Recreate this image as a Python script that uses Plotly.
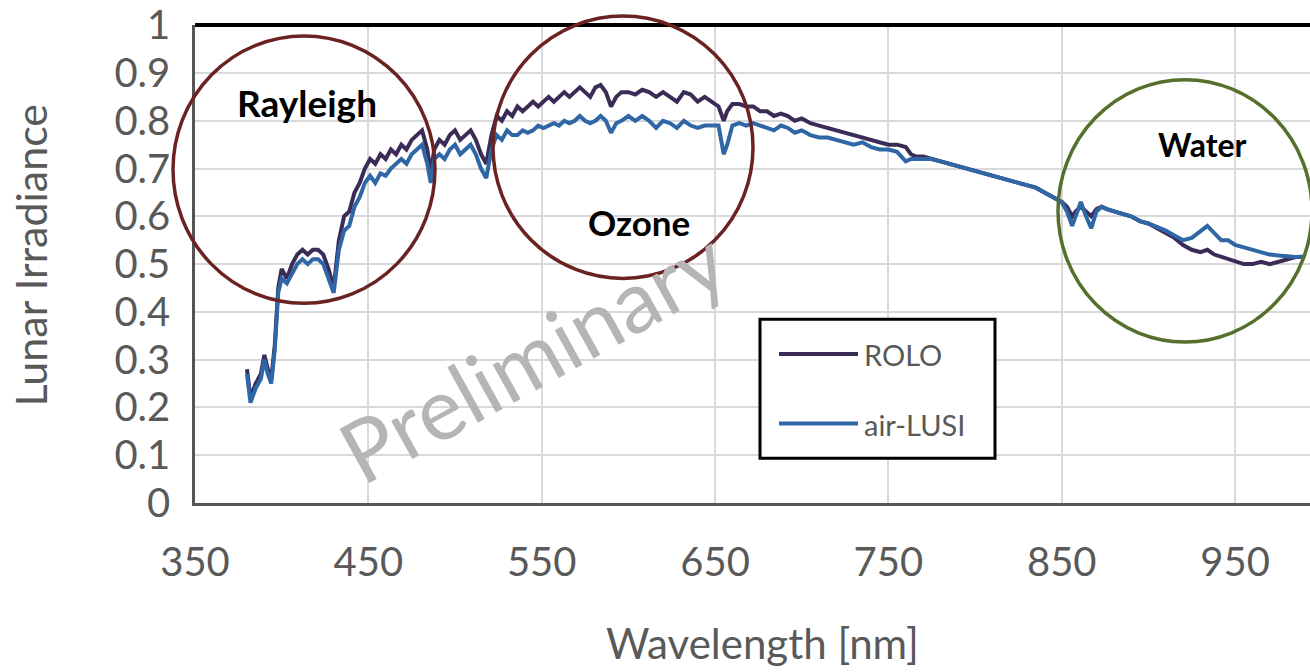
import plotly.graph_objects as go

# Wavelength grid [nm]
wavelength = [380, 382, 385, 388, 390, 392, 394, 396, 398, 400, 403, 406, 409, 412, 415, 418, 421, 424, 427, 430,
              433, 436, 439, 442, 445, 448, 451, 454, 457, 460, 463, 466, 469, 472, 475, 478, 481, 484, 486, 488,
              491, 494, 497, 500, 503, 506, 509, 512, 515, 518, 521, 524, 527, 530, 533, 536, 539, 542, 545, 548,
              551, 554, 557, 560, 563, 566, 569, 572, 575, 578, 581, 584, 587, 590, 593, 596, 600, 604, 608, 612,
              616, 620, 624, 628, 632, 636, 640, 644, 648, 652, 655, 657, 660, 664, 668, 672, 676, 680, 684, 688,
              692, 696, 700, 705, 710, 715, 720, 725, 730, 735, 740, 745, 750, 755, 760, 763, 766, 770, 775, 780,
              785, 790, 795, 800, 805, 810, 815, 820, 825, 830, 835, 840, 845, 850, 853, 856, 858, 861, 864, 867,
              870, 873, 876, 880, 885, 890, 895, 900, 905, 910, 915, 920, 925, 930, 934, 938, 942, 946, 950, 955,
              960, 965, 970, 975, 980, 985, 990]

rolo = [0.28, 0.22, 0.25, 0.27, 0.31, 0.28, 0.26, 0.33, 0.45, 0.49, 0.47, 0.50, 0.52, 0.53, 0.52, 0.53, 0.53, 0.52, 0.49, 0.45,
        0.55, 0.60, 0.61, 0.65, 0.67, 0.70, 0.72, 0.71, 0.73, 0.72, 0.74, 0.73, 0.75, 0.74, 0.76, 0.77, 0.78, 0.74, 0.69, 0.74,
        0.76, 0.75, 0.77, 0.78, 0.76, 0.77, 0.78, 0.76, 0.73, 0.71, 0.77, 0.81, 0.80, 0.82, 0.81, 0.83, 0.82, 0.83, 0.84, 0.83,
        0.84, 0.85, 0.84, 0.85, 0.86, 0.85, 0.86, 0.87, 0.86, 0.85, 0.87, 0.875, 0.86, 0.83, 0.85, 0.86, 0.86, 0.855, 0.865, 0.86,
        0.85, 0.86, 0.85, 0.84, 0.86, 0.855, 0.84, 0.85, 0.84, 0.83, 0.80, 0.82, 0.835, 0.835, 0.83, 0.83, 0.82, 0.82, 0.81, 0.815,
        0.81, 0.80, 0.805, 0.795, 0.79, 0.785, 0.78, 0.775, 0.77, 0.765, 0.76, 0.755, 0.75, 0.75, 0.745, 0.73, 0.725, 0.725, 0.72, 0.715,
        0.71, 0.705, 0.70, 0.695, 0.69, 0.685, 0.68, 0.675, 0.67, 0.665, 0.66, 0.65, 0.64, 0.63, 0.62, 0.60, 0.61, 0.62, 0.61, 0.60,
        0.615, 0.62, 0.615, 0.61, 0.605, 0.60, 0.59, 0.585, 0.575, 0.565, 0.555, 0.54, 0.53, 0.525, 0.53, 0.52, 0.515, 0.51, 0.505, 0.50,
        0.50, 0.505, 0.50, 0.505, 0.51, 0.515, 0.515]

air_lusi = [0.27, 0.21, 0.24, 0.26, 0.30, 0.27, 0.25, 0.32, 0.44, 0.47, 0.46, 0.48, 0.50, 0.51, 0.50, 0.51, 0.51, 0.50, 0.47, 0.44,
            0.53, 0.57, 0.58, 0.62, 0.64, 0.67, 0.685, 0.67, 0.69, 0.685, 0.70, 0.71, 0.72, 0.71, 0.73, 0.74, 0.75, 0.71, 0.67, 0.72,
            0.73, 0.72, 0.74, 0.75, 0.73, 0.74, 0.75, 0.73, 0.70, 0.68, 0.74, 0.77, 0.76, 0.78, 0.77, 0.77, 0.78, 0.775, 0.78, 0.79,
            0.785, 0.79, 0.795, 0.79, 0.80, 0.795, 0.80, 0.81, 0.80, 0.795, 0.80, 0.81, 0.80, 0.775, 0.795, 0.80, 0.81, 0.80, 0.81, 0.80,
            0.785, 0.80, 0.795, 0.785, 0.80, 0.79, 0.785, 0.79, 0.79, 0.79, 0.73, 0.75, 0.79, 0.795, 0.79, 0.795, 0.79, 0.785, 0.78, 0.79,
            0.785, 0.775, 0.78, 0.77, 0.765, 0.765, 0.76, 0.755, 0.75, 0.755, 0.745, 0.74, 0.74, 0.735, 0.715, 0.72, 0.72, 0.72, 0.72, 0.715,
            0.71, 0.705, 0.70, 0.695, 0.69, 0.685, 0.68, 0.675, 0.67, 0.665, 0.66, 0.65, 0.64, 0.63, 0.61, 0.58, 0.60, 0.63, 0.60, 0.575,
            0.61, 0.62, 0.615, 0.61, 0.605, 0.60, 0.59, 0.585, 0.578, 0.57, 0.56, 0.55, 0.555, 0.57, 0.58, 0.565, 0.55, 0.55, 0.54, 0.535,
            0.53, 0.525, 0.52, 0.518, 0.516, 0.515, 0.516]

x_ticks = [350, 450, 550, 650, 750, 850, 950]
y_ticks = [0, 0.1, 0.2, 0.3, 0.4, 0.5, 0.6, 0.7, 0.8, 0.9, 1]
y_tick_text = ["0", "0.1", "0.2", "0.3", "0.4", "0.5", "0.6", "0.7", "0.8", "0.9", "1"]

# Page geometry (pixels) used to place decorations in paper coordinates
W, H = 1310, 672
L, R, T, B = 195, 0, 22, 169
PW, PH = W - L - R, H - T - B


def px(x):
    return (x - L) / PW


def py(y):
    return (H - B - y) / PH


FONT = "Lato, Carlito, Calibri, sans-serif"
ROLO_COLOR = "#3b2b57"
LUSI_COLOR = "#2f66a6"

fig = go.Figure()
fig.add_trace(go.Scatter(x=wavelength, y=rolo, mode="lines", name="ROLO",
                         line=dict(color=ROLO_COLOR, width=4)))
fig.add_trace(go.Scatter(x=wavelength, y=air_lusi, mode="lines", name="air-LUSI",
                         line=dict(color=LUSI_COLOR, width=4)))

shapes = []
# top frame line
shapes.append(dict(type="line", xref="paper", yref="paper", x0=0, x1=1, y0=1, y1=1,
                   line=dict(color="black", width=4)))
# highlighted regions
for (x0, x1, y0, y1, c) in [(173, 435, 33, 302, "#6b2222"),
                            (493, 753, 13, 277, "#6b2222"),
                            (1058, 1312, 77, 341, "#556f2c")]:
    shapes.append(dict(type="circle", xref="paper", yref="paper",
                       x0=px(x0), x1=px(x1), y0=py(y1), y1=py(y0),
                       line=dict(color=c, width=3.5), layer="above"))
# legend box and sample lines
shapes.append(dict(type="rect", xref="paper", yref="paper",
                   x0=px(760), x1=px(995), y0=py(458), y1=py(318),
                   line=dict(color="black", width=3), fillcolor="white", layer="above"))
shapes.append(dict(type="line", xref="paper", yref="paper", x0=px(779), x1=px(858), y0=py(353), y1=py(353),
                   line=dict(color=ROLO_COLOR, width=4), layer="above"))
shapes.append(dict(type="line", xref="paper", yref="paper", x0=px(779), x1=px(858), y0=py(423), y1=py(423),
                   line=dict(color=LUSI_COLOR, width=4), layer="above"))

annotations = [
    dict(text="<b>Rayleigh</b>", x=px(307), y=py(100), font=dict(size=37, color="black", family=FONT)),
    dict(text="<b>Ozone</b>", x=px(639), y=py(220), font=dict(size=35, color="black", family=FONT)),
    dict(text="<b>Water</b>", x=px(1202), y=py(142), font=dict(size=32, color="black", family=FONT)),
    dict(text="Preliminary", x=px(532), y=py(354), textangle=-29,
         font=dict(size=86, color="#b5b5b5", family=FONT)),
    dict(text="ROLO", x=px(862), y=py(354), xanchor="left",
         font=dict(size=29, color="#595959", family=FONT)),
    dict(text="air-LUSI", x=px(862), y=py(424), xanchor="left",
         font=dict(size=29, color="#595959", family=FONT)),
    # axis titles
    dict(text="Wavelength [nm]", x=px(762), y=py(644),
         font=dict(size=42, color="#595959", family=FONT)),
    dict(text="Lunar Irradiance", x=px(31), y=py(254), textangle=-90,
         font=dict(size=43, color="#595959", family=FONT)),
]
for a in annotations:
    a.update(xref="paper", yref="paper", showarrow=False)
    a.setdefault("xanchor", "center")
    a["yanchor"] = "middle"

fig.update_layout(
    width=W, height=H,
    margin=dict(l=L, r=R, t=T, b=B, pad=0),
    paper_bgcolor="white", plot_bgcolor="white",
    showlegend=False,
    font=dict(family=FONT, color="#595959"),
    shapes=shapes,
    annotations=annotations,
    xaxis=dict(range=[350, 350 + PW / 1.7335], tickvals=x_ticks, ticks="",
               tickfont=dict(size=40, color="#595959"), ticklabelstandoff=22,
               showgrid=True, gridcolor="#d9d9d9", gridwidth=2,
               showline=True, linecolor="#555555", linewidth=3, zeroline=False),
    yaxis=dict(range=[0, 1.0005], tickvals=y_ticks, ticktext=y_tick_text, ticks="",
               tickfont=dict(size=40, color="#595959"), ticklabelstandoff=14,
               ticklabeloverflow="allow",
               showgrid=True, gridcolor="#d9d9d9", gridwidth=2,
               showline=True, linecolor="#555555", linewidth=2.5, zeroline=False),
)

fig.write_html("out.html")
